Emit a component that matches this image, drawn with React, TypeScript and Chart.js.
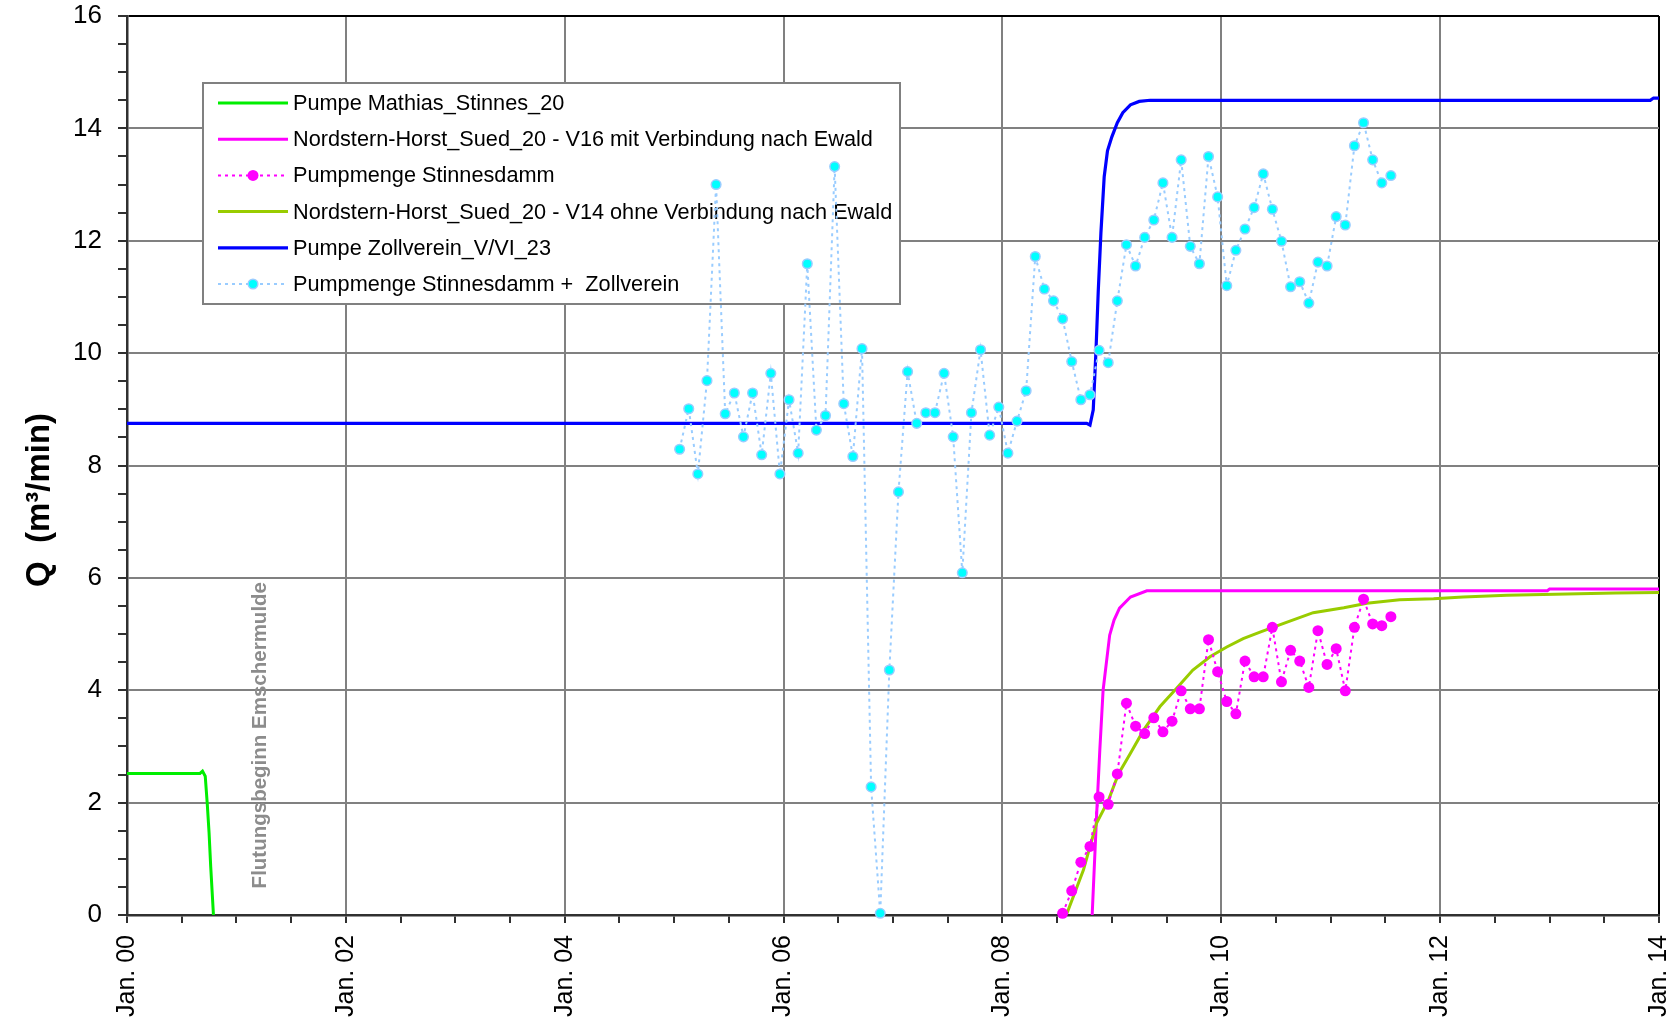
import React, { useEffect, useRef } from 'react';
import { Chart, registerables } from 'chart.js';

Chart.register(...registerables);

const FONT = "'Liberation Sans', Arial, Helvetica, sans-serif";

// x axis: years since Jan. 2000
const xMin = 0;
const xMax = 14;
const yMin = 0;
const yMax = 16;

// Pumpe Mathias_Stinnes_20
const mathiasX = [0, 0.667, 0.69, 0.715, 0.733, 0.75, 0.765, 0.79];
const mathiasY = [2.52, 2.52, 2.56, 2.47, 1.99, 1.46, 0.86, 0];

// Nordstern-Horst_Sued_20 - V16 mit Verbindung nach Ewald
const v16X = [8.82, 8.86, 8.89, 8.92, 8.98, 9.02, 9.07, 9.17, 9.32, 12.98, 13.0, 14];
const v16Y = [0, 1.75, 2.94, 4.0, 4.98, 5.25, 5.46, 5.66, 5.77, 5.77, 5.8, 5.8];

// Nordstern-Horst_Sued_20 - V14 ohne Verbindung nach Ewald
const v14X = [8.59, 8.74, 8.86, 8.97, 9.06, 9.17, 9.29, 9.44, 9.59, 9.74, 9.9, 10.05, 10.2, 10.36, 10.57, 10.84, 11.12, 11.33, 11.63, 11.94, 12.21, 12.61, 13.6, 14];
const v14Y = [0.03, 0.8, 1.63, 2.05, 2.51, 2.88, 3.29, 3.71, 4.03, 4.36, 4.6, 4.77, 4.92, 5.04, 5.19, 5.38, 5.47, 5.55, 5.61, 5.63, 5.66, 5.69, 5.73, 5.74];

// Pumpe Zollverein_V/VI_23
const zollX = [0, 8.77, 8.8, 8.83, 8.855, 8.876, 8.9, 8.93, 8.96, 9.0, 9.05, 9.1, 9.17, 9.25, 9.35, 13.92, 13.95, 14];
const zollY = [8.75, 8.75, 8.72, 8.99, 10.05, 11.12, 12.14, 13.14, 13.6, 13.85, 14.1, 14.28, 14.42, 14.48, 14.5, 14.5, 14.54, 14.54];

// Pumpmenge Stinnesdamm (monthly, from Jul. 2008)
const stinnesStart = { year: 2008, month: 7 };
const stinnesValues = [
  0.03, 0.43, 0.94, 1.22, 2.1, 1.97, 2.51, 3.77, 3.36, 3.23, 3.51, 3.26, 3.45,
  3.99, 3.67, 3.67, 4.9, 4.33, 3.8, 3.58, 4.52, 4.24, 4.24, 5.12, 4.15, 4.71,
  4.52, 4.05, 5.06, 4.46, 4.74, 3.99, 5.12, 5.62, 5.18, 5.15, 5.31,
];

// Pumpmenge Stinnesdamm + Zollverein (monthly, from Jan. 2005)
const summeStart = { year: 2005, month: 1 };
const summeValues = [
  8.29, 9.01, 7.85, 9.51, 13.0, 8.92, 9.29, 8.51, 9.29, 8.19, 9.64, 7.85,
  9.17, 8.22, 11.59, 8.63, 8.89, 13.32, 9.1, 8.16, 10.08, 2.28, 0.03, 4.36,
  7.53, 9.67, 8.75, 8.94, 8.94, 9.64, 8.51, 6.09, 8.94, 10.06, 8.54, 9.04,
  8.22, 8.79, 9.33, 11.72, 11.14, 10.93, 10.61, 9.85, 9.17, 9.26, 10.05, 9.83,
  10.93, 11.93, 11.55, 12.06, 12.37, 13.03, 12.06, 13.44, 11.9, 11.59, 13.5, 12.78,
  11.2, 11.83, 12.21, 12.59, 13.19, 12.56, 11.99, 11.18, 11.27, 10.89, 11.62, 11.55,
  12.43, 12.28, 13.69, 14.1, 13.44, 13.03, 13.16,
];

const seriesLabels = [
  'Pumpe Mathias_Stinnes_20',
  'Nordstern-Horst_Sued_20 - V16 mit Verbindung nach Ewald',
  'Pumpmenge Stinnesdamm',
  'Nordstern-Horst_Sued_20 - V14 ohne Verbindung nach Ewald',
  'Pumpe Zollverein_V/VI_23',
  'Pumpmenge Stinnesdamm +  Zollverein',
];

const yAxisTitle = 'Q  (m³/min)';
const annotationText = 'Flutungsbeginn Emschermulde';
const annotationYear = 1.22;

const xy = (xs: number[], ys: number[]) => xs.map((x, i) => ({ x, y: ys[i] }));
const monthly = (start: { year: number; month: number }, vals: number[]) =>
  vals.map((y, i) => ({ x: start.year - 2000 + (start.month - 1 + i + 0.6) / 12, y }));

const xLabel = (v: number) => (v % 2 === 0 ? 'Jan. ' + String(v).padStart(2, '0') : '');
const yLabel = (v: number) => (v % 2 === 0 ? String(v) : '');

const GRID = '#808080';
const AXIS = '#303030';

const legendPlugin = {
  id: 'boxLegend',
  beforeDatasetsDraw(chart: any) {
    const ctx = chart.ctx;
    const a = chart.chartArea;
    const L = a.left + 76;
    const T = a.top + 67;
    const W = 697;
    const H = 221;
    ctx.save();
    ctx.fillStyle = '#ffffff';
    ctx.fillRect(L, T, W, H);
    ctx.strokeStyle = GRID;
    ctx.lineWidth = 2;
    ctx.strokeRect(L, T, W, H);
    chart.data.datasets.forEach((ds: any, i: number) => {
      const y = T + 20 + i * 36.2;
      ctx.beginPath();
      ctx.setLineDash(ds.borderDash || []);
      ctx.strokeStyle = ds.borderColor;
      ctx.lineWidth = ds.borderWidth;
      ctx.moveTo(L + 15, y);
      ctx.lineTo(L + 85, y);
      ctx.stroke();
      ctx.setLineDash([]);
      if (ds.pointRadius > 0) {
        ctx.beginPath();
        ctx.arc(L + 50, y, ds.pointRadius, 0, Math.PI * 2);
        ctx.fillStyle = ds.pointBackgroundColor;
        ctx.fill();
        if (ds.pointBorderWidth > 0) {
          ctx.lineWidth = ds.pointBorderWidth;
          ctx.strokeStyle = ds.pointBorderColor;
          ctx.stroke();
        }
      }
      ctx.fillStyle = '#000000';
      ctx.font = `21.7px ${FONT}`;
      ctx.textAlign = 'left';
      ctx.textBaseline = 'middle';
      ctx.fillText(ds.label, L + 90, y + 1);
    });
    ctx.restore();
  },
  afterDraw(chart: any) {
    const ctx = chart.ctx;
    const xs = chart.scales.x;
    const ys = chart.scales.y;
    ctx.save();
    // annotation
    ctx.translate(xs.getPixelForValue(annotationYear) + 5, ys.getPixelForValue(3.2));
    ctx.rotate(-Math.PI / 2);
    ctx.font = `bold 20.5px ${FONT}`;
    ctx.fillStyle = '#8c8c8c';
    ctx.textAlign = 'center';
    ctx.textBaseline = 'alphabetic';
    ctx.fillText(annotationText, 0, 0);
    ctx.restore();
    // axis title
    ctx.save();
    ctx.translate(48.5, 500);
    ctx.rotate(-Math.PI / 2);
    ctx.font = `bold 33px ${FONT}`;
    ctx.fillStyle = '#000000';
    ctx.textAlign = 'center';
    ctx.textBaseline = 'alphabetic';
    ctx.fillText(yAxisTitle, 0, 0);
    ctx.restore();
  },
};

export default function App() {
  const ref = useRef<HTMLCanvasElement | null>(null);
  useEffect(() => {
    if (!ref.current) return;
    const chart = new Chart(ref.current, {
      type: 'line',
      data: {
        datasets: [
          {
            label: seriesLabels[0],
            data: xy(mathiasX, mathiasY),
            borderColor: '#00ee00',
            borderWidth: 3,
            pointRadius: 0,
            order: 5,
          },
          {
            label: seriesLabels[1],
            data: xy(v16X, v16Y),
            borderColor: '#ff00ff',
            borderWidth: 3,
            pointRadius: 0,
            order: 4,
          },
          {
            label: seriesLabels[2],
            data: monthly(stinnesStart, stinnesValues),
            borderColor: '#ff00ff',
            borderWidth: 2,
            borderDash: [3, 4],
            pointRadius: 5.5,
            pointBackgroundColor: '#ff00ff',
            pointBorderColor: '#ff00ff',
            pointBorderWidth: 0,
            order: 1,
            clip: 10,
          },
          {
            label: seriesLabels[3],
            data: xy(v14X, v14Y),
            borderColor: '#99cc00',
            borderWidth: 3,
            pointRadius: 0,
            order: 3,
          },
          {
            label: seriesLabels[4],
            data: xy(zollX, zollY),
            borderColor: '#0000ff',
            borderWidth: 3.2,
            pointRadius: 0,
            order: 2,
          },
          {
            label: seriesLabels[5],
            data: monthly(summeStart, summeValues),
            borderColor: '#99ccff',
            borderWidth: 2,
            borderDash: [3, 4],
            pointRadius: 4.8,
            pointBackgroundColor: '#00ffff',
            pointBorderColor: '#99ccff',
            pointBorderWidth: 1.5,
            order: 0,
            clip: 10,
          },
        ] as any,
      },
      options: {
        responsive: false,
        devicePixelRatio: 1,
        animation: false,
        events: [],
        layout: { padding: { left: 0, top: 16, right: 11, bottom: 0 } },
        elements: { line: { tension: 0 }, point: { hoverRadius: 0 } },
        plugins: {
          legend: { display: false },
          tooltip: { enabled: false },
          title: { display: false },
        },
        scales: {
          x: {
            type: 'linear',
            min: xMin,
            max: xMax,
            afterFit(scale: any) {
              scale.height = 104;
              scale.paddingLeft = 0;
              scale.paddingRight = 0;
            },
            ticks: {
              stepSize: 0.5,
              autoSkip: false,
              minRotation: 90,
              maxRotation: 90,
              padding: 12,
              color: '#000000',
              font: { family: FONT, size: 25 },
              callback: (v: any) => xLabel(Number(v)),
            },
            grid: {
              color: (c: any) =>
                c.tick && c.tick.value === xMax ? '#000000' : c.tick && c.tick.value % 2 === 0 ? GRID : 'rgba(0,0,0,0)',
              lineWidth: 2,
              tickLength: 8,
              tickColor: AXIS,
              tickWidth: 2,
            },
            border: { display: true, color: AXIS, width: 2.5 },
          },
          y: {
            type: 'linear',
            min: yMin,
            max: yMax,
            afterFit(scale: any) {
              scale.width = 127;
              scale.paddingTop = 0;
              scale.paddingBottom = 0;
            },
            ticks: {
              stepSize: 0.5,
              autoSkip: false,
              padding: 16,
              color: '#000000',
              font: { family: FONT, size: 26 },
              callback: (v: any) => yLabel(Number(v)),
            },
            grid: {
              color: (c: any) =>
                c.tick && c.tick.value === yMax ? '#000000' : c.tick && c.tick.value % 2 === 0 ? GRID : 'rgba(0,0,0,0)',
              lineWidth: 2,
              tickLength: 9,
              tickColor: AXIS,
              tickWidth: 2,
            },
            border: { display: true, color: AXIS, width: 2.5 },
          },
        },
      } as any,
      plugins: [legendPlugin],
    });
    return () => chart.destroy();
  }, []);
  return (
    <div style={{ position: 'fixed', left: 0, top: 0, width: 1670, height: 1019, background: '#ffffff' }}>
      <canvas ref={ref} width={1670} height={1019} style={{ display: 'block' }} />
    </div>
  );
}
